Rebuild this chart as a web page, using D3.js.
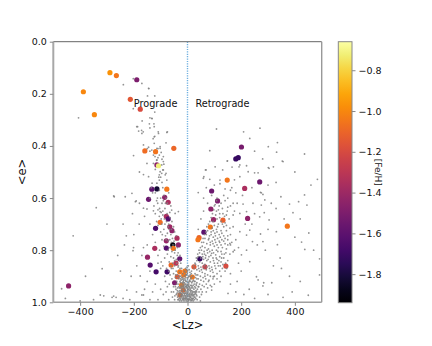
<!DOCTYPE html>
<html><head><meta charset="utf-8">
<script src="https://cdn.jsdelivr.net/npm/d3@7"></script>
<style>body{margin:0;background:#fff}svg{display:block;font-family:"DejaVu Sans",sans-serif}</style>
</head><body><div id="c"></div>
<script>
// ---------- data ----------
const xTicks = [-400, -200, 0, 200, 400];
const yTicks = [0.0, 0.2, 0.4, 0.6, 0.8, 1.0];
const cTicks = [-0.8, -1.0, -1.2, -1.4, -1.6, -1.8];
const regionLabels = ["Prograde", "Retrograde"];
const regionLz = [-200, 30];
const regionE = [0.25, 0.25];
// colored stars: [Lz, e, FeH]
const clusterStars = [
[-289,0.119,-0.97],[-265,0.130,-1.05],[-189,0.146,-1.50],[-388,0.192,-1.00],[-213,0.221,-1.15],
[-176,0.259,-1.20],[-347,0.280,-1.00],[-159,0.419,-1.08],[-119,0.422,-1.06],[-51,0.409,-1.10],
[-114,0.473,-1.45],[-108,0.476,-0.72],[-133,0.566,-1.60],[-114,0.565,-1.82],[-77,0.566,-1.05],
[-145,0.605,-1.55],[-85,0.597,-1.45],[-72,0.616,-1.35],[-79,0.670,-1.35],[-72,0.680,-1.62],
[-102,0.693,-1.08],[-119,0.716,-1.65],[-66,0.710,-1.40],[-58,0.725,-1.45],[-79,0.764,-1.42],
[-39,0.754,-1.35],[-55,0.780,-1.92],[-53,0.793,-1.05],[-34,0.780,-1.45],[-122,0.793,-1.35],
[-79,0.792,-1.62],[-149,0.827,-1.42],[-29,0.833,-1.58],[-139,0.857,-1.62],[-61,0.857,-1.10],
[-43,0.850,-1.30],[-117,0.883,-1.68],[-76,0.883,-1.70],[-29,0.883,-1.05],[-14,0.895,-1.05],
[-38,0.902,-1.15],[-48,0.925,-1.50],[-22,0.934,-1.05],[-16,0.953,-1.10],[-28,0.972,-1.10],
[-443,0.937,-1.45],[201,0.404,-1.52],[180,0.450,-1.72],[189,0.445,-1.72],[148,0.531,-1.05],
[269,0.538,-1.55],[213,0.563,-1.35],[90,0.573,-1.55],[112,0.611,-1.50],[87,0.642,-1.45],
[97,0.683,-1.42],[132,0.685,-1.12],[224,0.678,-1.45],[85,0.711,-1.05],[61,0.731,-1.60],
[43,0.752,-1.10],[39,0.760,-1.05],[46,0.833,-1.72],[24,0.864,-1.15],[65,0.864,-1.25],
[143,0.861,-1.20],[18,0.903,-1.05],[372,0.708,-1.05],[-10,0.880,-1.05]
];
// field stars: [Lz, e]
const fieldStars = [
[-239,0.165],[-202,0.142],[-144,0.180],[-122,0.208],[-149,0.208],[-202,0.257],[-406,0.292],[-122,0.270],[-140,0.292],[-132,0.295],
[-169,0.304],[-125,0.315],[-142,0.315],[-186,0.326],[-140,0.331],[-171,0.340],[-109,0.346],[-75,0.346],[-122,0.363],[-165,0.346],
[-128,0.372],[-170,0.160],[-145,0.179],[-124,0.326],[-189,0.326],[-182,0.343],[-170,0.352],[-124,0.365],[-108,0.352],[-77,0.348],
[-164,0.396],[-124,0.390],[-102,0.403],[-80,0.388],[-201,0.437],[-127,0.435],[-110,0.445],[-115,0.455],[-95,0.451],[-90,0.441],
[-127,0.467],[-96,0.473],[-90,0.492],[-102,0.499],[-179,0.500],[-164,0.510],[-105,0.511],[-83,0.511],[-105,0.531],[-77,0.531],
[-114,0.543],[-95,0.540],[-150,0.410],[-140,0.420],[-110,0.410],[-98,0.425],[-120,0.490],[-100,0.520],[-88,0.470],[-151,0.467],
[-145,0.518],[-107,0.520],[-80,0.505],[-132,0.543],[-96,0.505],[-92,0.492],[-90,0.460],[-114,0.454],[-105,0.435],[-121,0.441],
[-145,0.405],[-133,0.416],[-114,0.409],[-102,0.409],[-133,0.294],
[-275,0.592],[-340,0.637],[-194,0.614],[-426,0.745],[-318,0.871],[-203,0.802],[-469,0.948],[-455,0.985],[-325,0.972],[-281,0.981],
[-266,0.981],[-176,0.899],[-170,0.972],[-226,0.953],[-228,0.745],[-201,0.790],[-164,0.790],[-189,0.860],[-312,0.975],[-275,0.976],
[-207,0.582],[-232,0.595],[-273,0.595],[-191,0.611],[-179,0.620],[-164,0.639],[-151,0.642],[-127,0.649],[-111,0.620],[-102,0.652],
[-59,0.646],[-46,0.659],[-34,0.652],[-164,0.972],
[-135,0.56],[-120,0.58],[-105,0.57],[-92,0.56],[-88,0.59],[-100,0.6],[-115,0.61],[-125,0.63],[-95,0.62],[-80,0.6],
[-70,0.58],[-84,0.64],[-110,0.645],[-62,0.63],[-140,0.6],[-75,0.62],[-98,0.655],[-66,0.655],
[-120,0.66],[-105,0.67],[-92,0.665],[-86,0.68],[-78,0.69],[-96,0.7],[-110,0.705],[-65,0.675],[-58,0.69],[-70,0.7],
[-52,0.71],[-88,0.72],[-100,0.73],[-75,0.735],[-62,0.74],[-48,0.73],[-42,0.745],[-130,0.74],[-82,0.745],[-56,0.755],
[-115,0.69],[-140,0.7],[-68,0.72],
[-95,0.76],[-72,0.765],[-60,0.77],[-50,0.765],[-45,0.78],[-38,0.79],[-66,0.79],[-88,0.785],[-104,0.8],[-58,0.805],
[-48,0.81],[-35,0.81],[-28,0.82],[-75,0.815],[-62,0.825],[-52,0.83],[-42,0.835],[-30,0.84],[-85,0.83],[-110,0.82],
[-120,0.77],[-68,0.845],[-40,0.85],[-55,0.85],[-25,0.85],[-98,0.845],[-150,0.78],
[-48,0.86],[-35,0.865],[-22,0.87],[-60,0.87],[-70,0.88],[-42,0.88],[-30,0.885],[-18,0.89],[-52,0.89],[-38,0.895],
[-25,0.9],[-12,0.9],[-45,0.905],[-32,0.91],[-20,0.912],[-8,0.915],[-58,0.91],[-85,0.9],[-100,0.87],[-65,0.895],
[-40,0.92],[-28,0.92],[-15,0.925],
[-180,0.7],[-160,0.67],[-170,0.82],[-140,0.88],[-150,0.92],[-120,0.93],[-100,0.95],[-90,0.97],[-130,0.96],[-75,0.94],
[-60,0.96],[-205,0.66],[-235,0.78],[-250,0.88],[-210,0.9],[-190,0.96],[-110,0.99],[-70,0.99],[-215,0.99],[-350,0.99],[-400,0.995],
[-130,0.58],[-112,0.6],[-90,0.61],[-82,0.62],[-104,0.64],[-92,0.65],[-76,0.66],[-98,0.68],[-84,0.7],[-72,0.71],
[-60,0.72],[-94,0.74],[-80,0.76],[-66,0.76],[-54,0.78],[-72,0.8],[-60,0.79],[-46,0.8],[-38,0.82],[-48,0.84],
[-34,0.86],[-28,0.87],[-54,0.87],[-44,0.895],[-36,0.905],[-26,0.91],[-16,0.91],[-10,0.93],[-62,0.86],[-78,0.87],
[-92,0.86],[-110,0.85],[-82,0.92],[-68,0.93],[-52,0.94],[-56,0.98],[-80,0.96],
[-35,0.93],[-25,0.935],[-15,0.94],[-5,0.935],[5,0.93],[15,0.935],[25,0.93],[-30,0.945],[-20,0.95],[-10,0.95],
[0,0.945],[10,0.95],[20,0.945],[30,0.945],[-38,0.955],[-28,0.96],[-18,0.96],[-8,0.965],[2,0.96],[12,0.96],
[22,0.96],[32,0.955],[-33,0.97],[-23,0.97],[-13,0.975],[-3,0.97],[7,0.975],[17,0.97],[27,0.97],[-28,0.98],
[-18,0.985],[-8,0.98],[2,0.985],[12,0.98],[22,0.985],[-15,0.99],[-5,0.995],[5,0.99],[15,0.992],[-22,0.995],
[0,0.998],[-12,0.925],[-2,0.92],[8,0.915],[18,0.92],[-6,0.905],[4,0.9],[14,0.905],[-1,0.89],[9,0.885],
[-11,0.955],[-1,0.955],[9,0.965],[-4,0.985],[6,0.978],[-26,0.99],[26,0.99],[35,0.975],[-42,0.97],[-45,0.94],
[40,0.94],[-3,0.875],[3,0.86],[-7,0.87],
[-16,0.945],[-6,0.94],[4,0.94],[14,0.945],[-21,0.965],[-11,0.97],[-1,0.975],[9,0.97],[19,0.975],[-17,0.975],
[-9,0.99],[1,0.99],[11,0.99],[-14,0.965],[6,0.955],[16,0.955],[-24,0.955],[24,0.95],[-31,0.985],[31,0.985],
[-36,0.99],[36,0.99],
[-41,0.93],[-37,0.945],[-33,0.94],[-27,0.945],[-23,0.94],[-19,0.93],[-13,0.935],[-7,0.93],[-3,0.94],[3,0.935],
[7,0.94],[11,0.935],[17,0.94],[21,0.935],[27,0.94],[33,0.935],[37,0.95],[-39,0.965],[-35,0.96],[-29,0.965],
[-25,0.975],[-19,0.97],[-15,0.98],[-9,0.975],[-5,0.96],[1,0.965],[5,0.97],[13,0.975],[17,0.965],[23,0.975],
[29,0.965],[33,0.97],[-37,0.98],[-33,0.99],[-29,0.995],[-21,0.98],[-13,0.995],[-7,0.985],[-2,0.99],[3,0.995],
[8,0.985],[13,0.995],[18,0.985],[21,0.995],[28,0.98],[-10,0.91],[-4,0.895],[2,0.905],[6,0.92],[12,0.91],
[16,0.925],[-14,0.915],[-18,0.905],[-24,0.915],[-30,0.9],[0,0.88],[6,0.875],[-8,0.885],[-2,0.865],[10,0.895],
[-20,0.925],[-26,0.925],[22,0.915],[28,0.92],[32,0.93],[-43,0.95],[43,0.96],[-47,0.975],[45,0.98],[-48,0.99],
[48,0.995],[-52,0.96],[52,0.97],
[-12,0.945],[-8,0.955],[-4,0.945],[0,0.935],[4,0.95],[8,0.945],[12,0.955],[-20,0.94],[-16,0.935],[-24,0.945],
[-14,0.985],[-10,0.965],[-6,0.975],[-2,0.965],[2,0.975],[6,0.99],[10,0.98],[14,0.97],[-18,0.99],[-22,0.975],
[-26,0.965],[18,0.96],[22,0.97],[26,0.96],[-30,0.955],[30,0.96],[-34,0.975],[34,0.96],[-6,0.92],[0,0.91],
[4,0.925],[10,0.92],[-16,0.92],[-22,0.905],[-12,0.88],[-6,0.895],[8,0.9],[14,0.89],[-1,0.93],[-9,0.94],
[1,0.95],[-19,0.955],[15,0.985],[-11,0.985],[-25,0.985],[25,0.98],[-3,0.98],[19,0.99]
,
[20,0.9],[30,0.905],[40,0.91],[50,0.915],[25,0.92],[35,0.925],[45,0.93],[60,0.92],[55,0.935],[70,0.93],
[28,0.89],[38,0.895],[48,0.9],[58,0.905],[68,0.91],[80,0.915],[90,0.94],[42,0.94],[75,0.945],[50,0.95],[100,0.93],
[25,0.87],[35,0.875],[45,0.88],[55,0.885],[65,0.89],[75,0.895],[30,0.855],[40,0.86],[50,0.865],[60,0.87],
[70,0.875],[85,0.88],[95,0.885],[35,0.84],[45,0.845],[55,0.85],[65,0.855],[80,0.86],[90,0.865],[105,0.87],
[40,0.825],[50,0.83],[60,0.835],[72,0.84],[85,0.845],[100,0.85],[115,0.86],[45,0.81],[55,0.815],[68,0.82],
[80,0.825],[95,0.83],[110,0.835],[125,0.845],[52,0.8],[62,0.805],[75,0.81],[90,0.812],[105,0.818],[120,0.825],
[135,0.83],[150,0.84],[110,0.89],[125,0.9],[140,0.88],[160,0.89],[130,0.87],
[55,0.785],[65,0.79],[78,0.795],[92,0.8],[108,0.8],[125,0.805],[60,0.77],[72,0.775],[85,0.78],[100,0.785],
[115,0.79],[130,0.79],[145,0.795],[65,0.755],[78,0.76],[92,0.765],[105,0.77],[120,0.77],[140,0.775],[160,0.78],
[70,0.74],[82,0.745],[96,0.75],[112,0.755],[128,0.76],[150,0.76],[75,0.725],[88,0.73],[102,0.735],[118,0.74],
[135,0.745],[160,0.74],[92,0.715],[108,0.72],[125,0.725],[145,0.725],[100,0.705],[115,0.7],[135,0.71],[170,0.71],
[180,0.76],[175,0.8],[190,0.79],
[95,0.69],[110,0.68],[125,0.69],[140,0.695],[105,0.665],[120,0.66],[138,0.67],[155,0.68],[115,0.645],[130,0.64],
[148,0.65],[100,0.63],[125,0.62],[140,0.61],[160,0.63],[110,0.6],[135,0.59],[150,0.6],[175,0.65],[170,0.62],
[75,0.62],[60,0.65],[50,0.68],[40,0.72],
[15,0.88],[22,0.86],[28,0.85],[33,0.83],[38,0.815],[43,0.8],[48,0.79],[53,0.77],[58,0.755],[63,0.74],
[68,0.73],[72,0.71],[78,0.7],[83,0.69],[88,0.675],[93,0.66],[98,0.645],[103,0.625],[108,0.61],[32,0.895],
[42,0.87],[52,0.875],[62,0.86],[72,0.865],[82,0.87],[92,0.875],[102,0.86],[112,0.85],[122,0.86],[132,0.855],
[142,0.85],[57,0.825],[67,0.83],[77,0.835],[87,0.82],[97,0.84],[107,0.83],[117,0.84],[127,0.83],[137,0.815],
[63,0.815],[73,0.8],[83,0.805],[97,0.81],[113,0.805],[128,0.815],[143,0.81],[158,0.815],[85,0.77],[95,0.775],
[110,0.78],[125,0.78],[135,0.765],[150,0.78],[165,0.77],[80,0.755],[102,0.76],[118,0.765],[88,0.74],[104,0.745],
[122,0.75],[140,0.755],[110,0.73],[128,0.735],[150,0.745],[96,0.725],[112,0.71],[130,0.7],[145,0.705],[158,0.715],
[120,0.675],[132,0.66],[145,0.665],[108,0.65],[118,0.63],[150,0.635],[85,0.9],[95,0.91],[110,0.91],[120,0.88],
[35,0.91],[62,0.94],[65,0.9],[78,0.92],[85,0.935],[100,0.9],[55,0.96],[70,0.96],
[108,0.335],[209,0.346],[270,0.332],[232,0.371],[83,0.418],[301,0.403],[335,0.387],[332,0.424],[436,0.431],[353,0.458],
[148,0.458],[166,0.481],[192,0.480],[131,0.492],[220,0.476],[301,0.483],[69,0.492],[103,0.480],[263,0.503],[484,0.528],
[61,0.518],[83,0.528],[121,0.531],[195,0.518],[226,0.499],[356,0.460],[304,0.486],[272,0.578],[281,0.586],[288,0.607],
[312,0.620],[348,0.595],[380,0.623],[414,0.614],[445,0.627],[436,0.588],[393,0.656],[286,0.656],[304,0.684],[331,0.729],
[452,0.734],[272,0.738],[335,0.779],[425,0.769],[437,0.797],[492,0.833],[492,0.895],[284,0.925],[314,0.925],[356,0.981],
[450,0.973],[185,0.620],[207,0.623],[244,0.620],[275,0.627],[220,0.652],[195,0.659],[170,0.665],[269,0.672],[232,0.723],
[195,0.729],[242,0.767],[281,0.767],[220,0.742],[158,0.774],[170,0.806],[201,0.818],[232,0.844],[257,0.902],[263,0.914],
[146,0.870],[121,0.921],[151,0.966],[281,0.937],[90,0.953],[96,0.902],[165,0.56],[175,0.53],[240,0.56],[205,0.59],
[100,0.55],[70,0.56],[60,0.6],[140,0.565],[215,0.7],[250,0.66],[200,0.88],[185,0.92],[230,0.95],[320,0.86],
[380,0.9],[400,0.75],[360,0.68],[300,0.55],[330,0.54],[290,0.8],[345,0.83],
[149,0.457],[67,0.492],[195,0.473],[250,0.503],[59,0.524],[40,0.579],[275,0.58],[121,0.545],[160,0.57],[90,0.59],
[250,0.42],[280,0.45],[320,0.48],[400,0.5],[460,0.55],[420,0.68],[470,0.8],[350,0.87],[390,0.96],[420,0.92],
[300,0.97],[250,0.985],[210,0.97],[180,0.96],[160,0.93],[190,0.85],[220,0.8],[260,0.78],[300,0.72],[330,0.64],
[240,0.7],[180,0.58],[-240,0.7],[-260,0.82],[-200,0.74],[-300,0.7],[-380,0.9],[-240,0.985],[-160,0.95],[-140,0.99]
];

// ---------- layout ----------
const W = 432, H = 346;
const P = {l: 53.3, r: 321.7, t: 41.7, b: 302.3};
const CB = {l: 338.3, r: 352, t: 41.7, b: 302.7};

const svg = d3.select("#c").append("svg").attr("width", W).attr("height", H);
const x = d3.scaleLinear().domain([-500, 500]).range([P.l, P.r]);
const y = d3.scaleLinear().domain([0, 1]).range([P.t, P.b]);
const cDomain = [-1.94, -0.66];
const color = d3.scaleSequential(d3.interpolateInferno).domain(cDomain);

svg.append("clipPath").attr("id", "clip").append("rect")
  .attr("x", P.l).attr("y", P.t).attr("width", P.r - P.l).attr("height", P.b - P.t);
const plot = svg.append("g").attr("clip-path", "url(#clip)");

// vertical dotted line at Lz = 0
plot.append("line").attr("x1", x(0)).attr("x2", x(0)).attr("y1", P.t).attr("y2", P.b)
  .attr("stroke", "#6fb0e0").attr("stroke-width", 1.4).attr("stroke-dasharray", "1.2,1.2");

// colored stars
plot.append("g").selectAll("circle").data(clusterStars).join("circle")
  .attr("cx", d => x(d[0])).attr("cy", d => y(d[1])).attr("r", 2.6)
  .attr("fill", d => color(d[2]));

// field stars
plot.append("g").selectAll("circle").data(fieldStars).join("circle")
  .attr("cx", d => x(d[0])).attr("cy", d => y(d[1])).attr("r", 0.9)
  .attr("fill", "#808080").attr("opacity", 0.85);

// region labels
svg.append("g").selectAll("text").data(regionLabels).join("text")
  .attr("x", (d, i) => x(regionLz[i])).attr("y", (d, i) => y(regionE[i]))
  .attr("font-size", 9.7).attr("fill", "#111").text(d => d);

// spines
const sp = svg.append("g");
sp.append("line").attr("x1", P.l).attr("x2", P.r).attr("y1", P.t).attr("y2", P.t).attr("stroke", "#666").attr("stroke-width", 1);
sp.append("line").attr("x1", P.r).attr("x2", P.r).attr("y1", P.t).attr("y2", P.b).attr("stroke", "#999").attr("stroke-width", 1.4);
sp.append("line").attr("x1", P.l).attr("x2", P.l).attr("y1", P.t).attr("y2", P.b).attr("stroke", "#a8a8a8").attr("stroke-width", 2);
sp.append("line").attr("x1", P.l).attr("x2", P.r).attr("y1", P.b).attr("y2", P.b).attr("stroke", "#a0a0a0").attr("stroke-width", 1.5);

// axes
const fmtMinus = s => s.replace("-", "\u2212");
const xAxis = svg.append("g").attr("transform", `translate(0,${P.b})`)
  .call(d3.axisBottom(x).tickValues(xTicks).tickSize(3.5).tickPadding(2).tickSizeOuter(0).tickFormat(d => fmtMinus(d3.format("d")(d))));
const yAxis = svg.append("g").attr("transform", `translate(${P.l},0)`)
  .call(d3.axisLeft(y).tickValues(yTicks).tickSize(3.5).tickPadding(3).tickSizeOuter(0).tickFormat(d3.format(".1f")));
[xAxis, yAxis].forEach(a => {
  a.select(".domain").remove();
  a.selectAll(".tick line").attr("stroke", "#888").attr("stroke-width", 1);
  a.selectAll(".tick text").attr("font-size", 9.5).attr("fill", "#111").attr("font-family", "DejaVu Sans");
});

// axis labels
svg.append("text").attr("x", x(0)).attr("y", 329).attr("text-anchor", "middle")
  .attr("font-size", 11.5).attr("fill", "#111").text("<Lz>");
svg.append("text").attr("transform", `translate(26,${(P.t + P.b) / 2}) rotate(-90)`)
  .attr("text-anchor", "middle").attr("font-size", 11.5).attr("fill", "#111").text("<e>");

// colorbar
const defs = svg.append("defs");
const grad = defs.append("linearGradient").attr("id", "cbg").attr("x1", 0).attr("x2", 0).attr("y1", 1).attr("y2", 0);
d3.range(0, 1.0001, 0.05).forEach(t => {
  grad.append("stop").attr("offset", t).attr("stop-color", d3.interpolateInferno(t));
});
svg.append("rect").attr("x", CB.l).attr("y", CB.t).attr("width", CB.r - CB.l).attr("height", CB.b - CB.t)
  .attr("fill", "url(#cbg)").attr("stroke", "#888").attr("stroke-width", 1);
const cy = d3.scaleLinear().domain(cDomain).range([CB.b, CB.t]);
const cAxis = svg.append("g").attr("transform", `translate(${CB.r},0)`)
  .call(d3.axisRight(cy).tickValues(cTicks).tickSize(3.5).tickSizeOuter(0).tickFormat(d => fmtMinus(d3.format(".1f")(d))));
cAxis.select(".domain").remove();
cAxis.selectAll(".tick line").attr("stroke", "#888");
cAxis.selectAll(".tick text").attr("font-size", 9.5).attr("fill", "#111").attr("font-family", "DejaVu Sans");
svg.append("text").attr("transform", `translate(375,${(CB.t + CB.b) / 2}) rotate(90)`)
  .attr("text-anchor", "middle").attr("font-size", 9).attr("fill", "#111").text("[Fe/H]");
</script></body></html>
